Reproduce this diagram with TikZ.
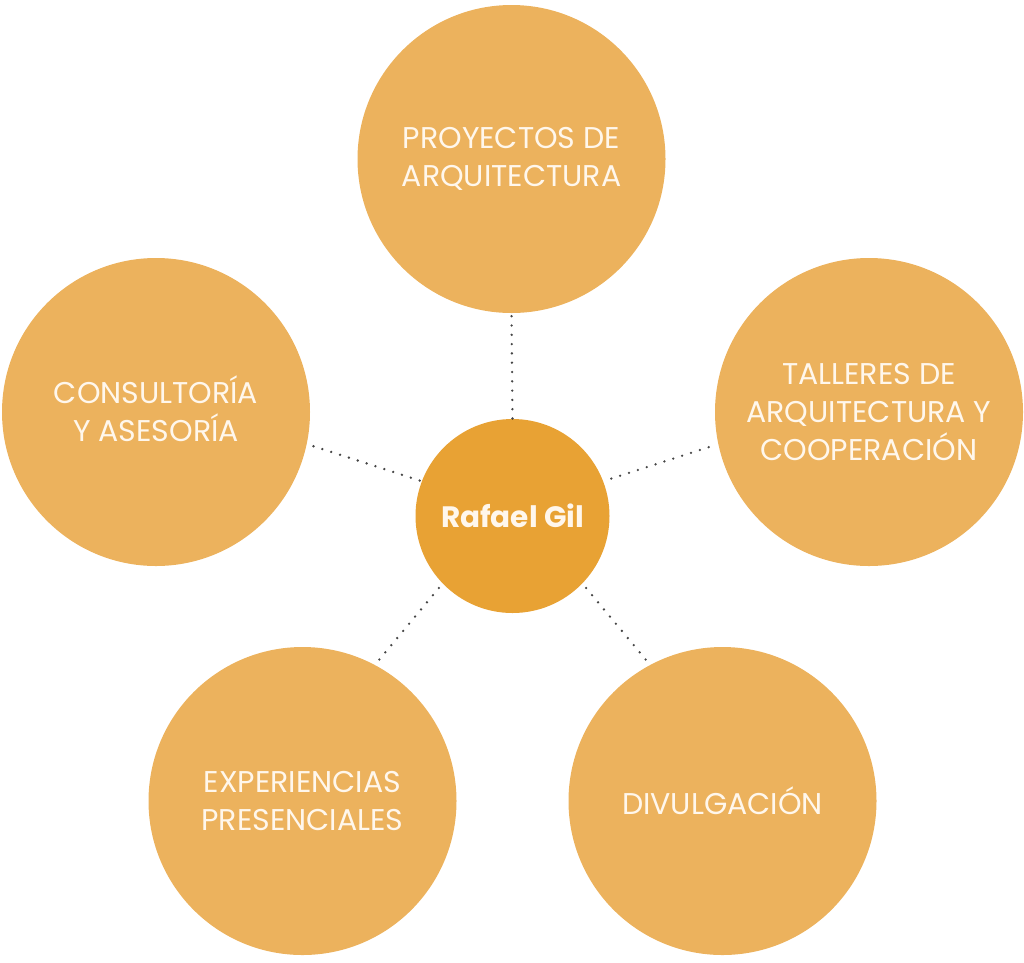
\documentclass[tikz,border=0pt]{standalone}
\usepackage{fontspec}
\setmainfont{Poppins}
\definecolor{outerc}{HTML}{ECB25D}
\definecolor{innerc}{HTML}{E8A234}
\definecolor{txtc}{HTML}{FFF7EC}
\definecolor{dotc}{HTML}{454545}
\begin{document}
\begin{tikzpicture}[x=1pt,y=-1pt,
  bubble/.style={circle, fill=outerc, minimum size=308pt, inner sep=0pt, text=txtc, align=center, font=\fontsize{30}{38}\selectfont},
  hub/.style={circle, fill=innerc, minimum size=194pt, inner sep=0pt, text=txtc, font=\bfseries\fontsize{29.5}{38}\selectfont},
  link/.style={draw=dotc, line width=2.6pt, line cap=round, dash pattern=on 0pt off 9.3pt}]
\useasboundingbox (0,0) rectangle (1024,962);
\node[hub] (c) at (512.5,516) {Rafael Gil};
\node[bubble] (t) at (511.5,159) {PROYECTOS DE\\ARQUITECTURA};
\node[bubble] (l) at (156,412) {\smash{CONSULTORÍA}\vphantom{C}\\Y ASESORÍA};
\node[bubble] (r) at (869,412) {TALLERES DE\\ARQUITECTURA Y\\COOPERACIÓN};
\node[bubble] (bl) at (302.5,801) {EXPERIENCIAS\\PRESENCIALES};
\node[bubble] (br) at (722.5,801) {DIVULGACIÓN};
\draw[link, shorten <=3pt] (t.south) -- (c.north);
\draw[link, shorten <=7pt] (l.-12) -- (c.159);
\draw[link, shorten <=10pt, shorten >=8pt] (r.192) -- (c.21);
\draw[link, shorten <=7pt, shorten >=5pt] (bl.62) -- (c.224);
\draw[link, shorten <=7pt, shorten >=5pt] (br.118) -- (c.-44);
\end{tikzpicture}
\end{document}
